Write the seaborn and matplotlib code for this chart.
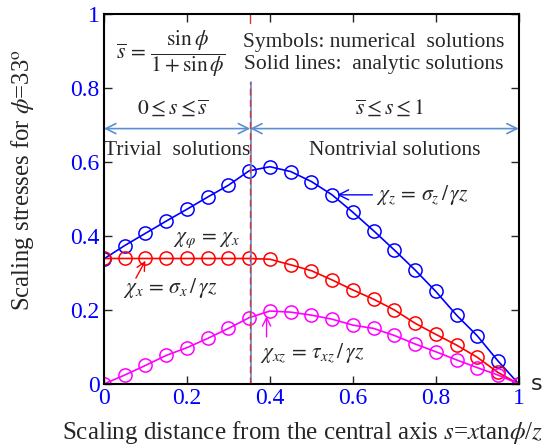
import numpy as np
import pandas as pd
import seaborn as sns
import matplotlib
matplotlib.use("Agg")
import matplotlib.pyplot as plt

# data
s = [0.0, 0.05, 0.1, 0.15, 0.2, 0.25, 0.3, 0.35, 0.4, 0.45, 0.5,
     0.55, 0.6, 0.65, 0.7, 0.75, 0.8, 0.85, 0.9, 0.95, 1.0]
chi_z = [0.338, 0.374, 0.407, 0.440, 0.472, 0.505, 0.537, 0.576, 0.587, 0.574, 0.547,
         0.511, 0.464, 0.414, 0.362, 0.308, 0.250, 0.186, 0.130, 0.062, 0.0]
chi_x = [0.339, 0.339, 0.339, 0.339, 0.339, 0.339, 0.339, 0.339, 0.337, 0.322, 0.306,
         0.281, 0.254, 0.229, 0.200, 0.164, 0.134, 0.105, 0.072, 0.031, 0.0]
chi_xz = [0.0, 0.024, 0.050, 0.077, 0.098, 0.123, 0.150, 0.179, 0.197, 0.194, 0.186,
          0.175, 0.159, 0.150, 0.131, 0.108, 0.087, 0.065, 0.044, 0.024, 0.0]
phi_deg = 33
s_bar = np.sin(np.radians(phi_deg)) / (1 + np.sin(np.radians(phi_deg)))

df = pd.DataFrame({"s": s, "chi_z": chi_z, "chi_x": chi_x, "chi_xz": chi_xz})

sns.set_style("ticks")
plt.rcParams["font.family"] = ["Liberation Serif", "DejaVu Serif"]
plt.rcParams["mathtext.fontset"] = "stix"

fig = plt.figure(figsize=(5.56, 4.48), dpi=100)
ax = fig.add_axes([0.187, 0.143, 0.746, 0.826])

for col, c in [("chi_z", "#0000ff"), ("chi_x", "#ff0000"), ("chi_xz", "#ff00ff")]:
    sns.lineplot(data=df, x="s", y=col, color=c, lw=1.2, marker="o", markersize=9.5,
                 markerfacecolor="none", markeredgecolor=c, markeredgewidth=1.1, ax=ax)

# boundary between trivial and nontrivial zones (dashes hidden behind the note text)
ax.axvline(s_bar + 0.003, ymin=0, ymax=0.815, color="#5b8fd0", lw=1.2)
ax.axvline(s_bar, ymin=0, ymax=0.815, color="#e03030", lw=1.0, ls=(0, (5, 3)))
ax.axvline(s_bar, ymin=0.975, ymax=1, color="#e03030", lw=1.0)

arrow = dict(arrowstyle="<->", color="#5b8fd0", lw=1.2, mutation_scale=18, shrinkA=0, shrinkB=0)
ax.annotate("", xy=(0, 0.69), xytext=(s_bar, 0.69), arrowprops=arrow)
ax.annotate("", xy=(s_bar, 0.69), xytext=(1, 0.69), arrowprops=arrow)

fs = 15.5
ax.text(0.16, 0.893, r"$\overline{s}\,=\,\dfrac{\sin\phi}{1+\sin\phi}$", ha="center", va="center", fontsize=fs)
ax.text(0.65, 0.924, "Symbols: numerical  solutions", ha="center", va="center", fontsize=fs)
ax.text(0.65, 0.862, "Solid lines:  analytic solutions", ha="center", va="center", fontsize=fs)
ax.text(0.165, 0.745, r"$0\leq s\leq \overline{s}$", ha="center", va="center", fontsize=fs)
ax.text(0.689, 0.745, r"$\overline{s}\leq s\leq 1$", ha="center", va="center", fontsize=fs)
ax.text(0.177, 0.632, "Trivial  solutions", ha="center", va="center", fontsize=fs)
ax.text(0.702, 0.632, "Nontrivial solutions", ha="center", va="center", fontsize=fs)

ax.annotate(r"$\chi_z\,=\,\sigma_z\,/\,\gamma z$", xy=(0.562, 0.511), xytext=(0.655, 0.511),
            va="center", fontsize=fs,
            arrowprops=dict(arrowstyle="->", color="#0000ff", lw=1.0, mutation_scale=18, shrinkA=0, shrinkB=0))
ax.text(0.166, 0.389, r"$\chi_\varphi\,=\,\chi_x$", va="center", fontsize=fs)
ax.text(0.046, 0.26, r"$\chi_x\,=\,\sigma_x\,/\,\gamma z$", va="center", fontsize=fs)
ax.annotate("", xy=(0.1, 0.333), xytext=(0.077, 0.286),
            arrowprops=dict(arrowstyle="->", color="#ff0000", lw=1.0, mutation_scale=15, shrinkA=0, shrinkB=0))
ax.text(0.376, 0.083, r"$\chi_{xz}\,=\,\tau_{xz}\,/\,\gamma z$", va="center", fontsize=fs)
ax.annotate("", xy=(0.392, 0.183), xytext=(0.392, 0.127),
            arrowprops=dict(arrowstyle="->", color="#ff00ff", lw=1.0, mutation_scale=15, shrinkA=0, shrinkB=0))

ax.set_xlim(0, 1)
ax.set_ylim(0, 1)
ticks = [0, 0.2, 0.4, 0.6, 0.8, 1]
labels = ["0", "0.2", "0.4", "0.6", "0.8", "1"]
ax.set_xticks(ticks, labels)
ax.set_yticks(ticks, labels)
ax.tick_params(axis="both", direction="in", length=6, width=1, labelsize=17, labelcolor="#0000ff",
               top=True, right=True, pad=3)
for sp in ax.spines.values():
    sp.set_linewidth(1.5)
    sp.set_color("black")

ax.set_xlabel(r"Scaling distance from the central axis $s$=$x$tan$\phi$/$z$", fontsize=18)
ax.xaxis.set_label_coords(0.48, -0.095)
ax.set_ylabel(r"Scaling stresses for $\phi$=33$^{\rm o}$", fontsize=17.8)
ax.yaxis.set_label_coords(-0.163, 0.55)
fig.text(0.955, 0.143, "s", fontsize=16, family="DejaVu Sans", va="center", ha="left")

fig.savefig("out.png", dpi=100)
